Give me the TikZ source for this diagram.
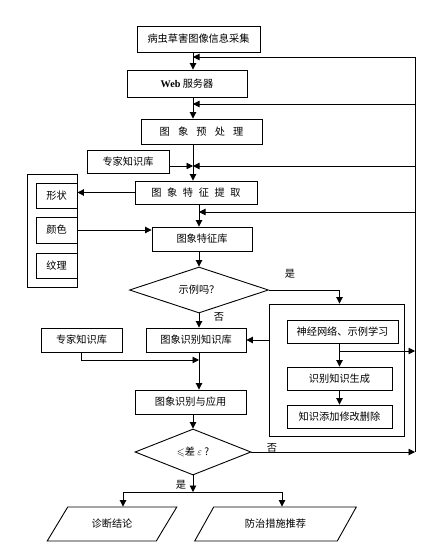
\documentclass[tikz,border=0pt]{standalone}
\usepackage{fontspec,amssymb}
\setmainfont{Noto Sans CJK SC}
\newfontfamily\latinfont{Liberation Serif}
\usetikzlibrary{arrows.meta,shapes.geometric}
\newcommand{\sgap}{\hspace{0.8em}}
\newcommand{\tgap}{\hspace{0.55em}}

\begin{document}
\begin{tikzpicture}[x=1pt, y=-1pt, line width=0.9pt,
    >={Triangle[length=6.5pt,width=6.5pt]},
    font=\fontsize{10.2}{12}\selectfont,
    box/.style={draw, rectangle, inner sep=0pt},
    test/.style={draw, diamond, aspect=3, inner sep=0pt},
    slanted/.style={draw, trapezium, trapezium left angle=45,
        trapezium right angle=135, trapezium stretches=true, inner sep=0pt},
    tag/.style={inner sep=1pt}]
\useasboundingbox (0,0) rectangle (440,549);
\coordinate (spine) at (193,0);
\coordinate (spineB) at (199,0);
\coordinate (trunk) at (415,0);
% main column
\node[box, minimum width=123pt, minimum height=26pt] (collect) at (198.5,39) {病虫草害图像信息采集};
\node[box, minimum width=120pt, minimum height=27pt] (web) at (187,83.5) {{\latinfont\bfseries Web} 服务器};
\node[box, minimum width=121pt, minimum height=25pt] (pre) at (201.5,131.5) {图\sgap 象\sgap 预\sgap 处\sgap 理};
\node[box, minimum width=82pt, minimum height=23pt] (expA) at (128,161.5) {专家知识库};
\node[box, minimum width=122pt, minimum height=23pt] (extract) at (196,192.5) {图\tgap 象\tgap 特\tgap 征\tgap 提\tgap 取};
\node[box, minimum width=50pt, minimum height=113pt] (attrs) at (52,230.5) {};
\node[box, minimum width=41pt, minimum height=25pt] (shape) at (56.5,195.5) {形状};
\node[box, minimum width=41pt, minimum height=26pt] (color) at (56.5,230) {颜色};
\node[box, minimum width=41pt, minimum height=25pt] (texture) at (56.5,265.5) {纹理};
\node[box, minimum width=100pt, minimum height=24pt] (featdb) at (202,239) {图象特征库};
\node[test, minimum width=139pt, minimum height=46pt] (isex) at (199,290) {示例吗？};
\node[tag] (yesA) at (290,274) {是};
\node[tag] (noA) at (219,317) {否};
% learning block
\node[box, minimum width=135pt, minimum height=132pt] (learn) at (336.5,370) {};
\node[box, minimum width=111pt, minimum height=23pt] (nn) at (342.5,331.5) {神经网络、示例学习};
\node[box, minimum width=105pt, minimum height=23pt] (gen) at (339.5,378.5) {识别知识生成};
\node[box, minimum width=105pt, minimum height=23pt] (edit) at (339.5,416.5) {知识添加修改删除};
% recognition
\node[box, minimum width=100pt, minimum height=24pt] (recog) at (196,340) {图象识别知识库};
\node[box, minimum width=81pt, minimum height=24pt] (expB) at (81.5,340) {专家知识库};
\node[box, minimum width=111pt, minimum height=24pt] (apply) at (190.5,402) {图象识别与应用};
\node[test, minimum width=116pt, minimum height=46pt] (err) at (193,452) {$\leqslant$差 $\varepsilon$ ?};
\node[tag] (noB) at (272,448) {否};
\node[tag] (yesB) at (181,485) {是};
\node[slanted, minimum width=130pt, minimum height=34pt] (diag) at (112,524) {诊断结论};
\node[slanted, minimum width=163pt, minimum height=34pt] (plan) at (275.5,524) {防治措施推荐};
% connectors
\draw[->] (collect.south -| spine) -- (web.north -| spine);
\draw[->] (web.south -| spine) -- (pre.north -| spine);
\draw[->] (pre.south -| spine) -- (extract.north -| spine);
\draw[->] (extract.south -| spineB) -- (featdb.north -| spineB);
\draw[->] (featdb.south -| spineB) -- (isex.north);
\draw (trunk |- 0,57) -- (trunk |- err.east);
\foreach \y in {57, 104, 166}
    \draw[->] (trunk |- 0,\y) -- (spine |- 0,\y);
\draw[->] (trunk |- 0,212) -- (spineB |- 0,212);
\draw[->] (expA.east |- 0,166) -- (spine |- 0,166);
\draw[->] (extract.west) -- (extract.west -| shape.east);
\draw[->] (color.east) -- (color.east -| featdb.west);
\draw[->] (isex.east) -| (gen.north |- learn.north);
\draw[->] (isex.south) -- (isex.south |- recog.north);
\draw[->] (learn.west |- recog.east) -- (recog.east);
\draw[->] (nn.south -| gen.north) -- (gen.north);
\draw[->] (gen.south) -- (edit.north);
\draw[->] (gen.north |- 0,351) -- (trunk |- 0,351);
\draw[->] (isex.south |- recog.south) -- (isex.south |- apply.north);
\draw[->] (expB.south) |- (spineB |- 0,360);
\draw[->] (apply.south -| err.north) -- (err.north);
\draw[->] (err.east) -- (trunk |- err.east);
\draw[->] (err.south) -- (err.south |- 0,492);
\draw[->] (err.south |- 0,492) -| ([xshift=11pt]diag.north);
\draw[->] (err.south |- 0,492) -| ([xshift=6.5pt]plan.north);
\end{tikzpicture}
\end{document}
